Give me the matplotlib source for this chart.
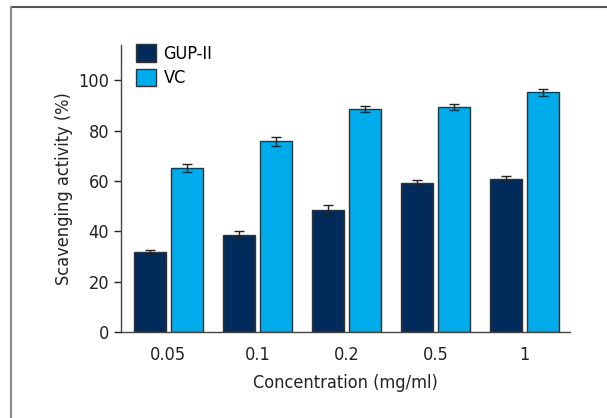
import matplotlib
matplotlib.use("Agg")
import matplotlib.pyplot as plt
from matplotlib.lines import Line2D
from matplotlib.patches import Patch
import numpy as np

plt.rcParams['font.family'] = ['DejaVu Sans']
plt.rcParams['font.stretch'] = 'condensed'

categories = ["0.05", "0.1", "0.2", "0.5", "1"]
gup = [31.7, 38.5, 48.6, 59.2, 60.8]
gup_err = [0.9, 1.6, 1.8, 1.1, 1.0]
vc = [65.2, 75.7, 88.6, 89.4, 95.2]
vc_err = [1.6, 1.8, 1.3, 1.1, 1.3]
series_names = ["GUP-II", "VC"]

c_dark = "#022b5b"
c_light = "#00acec"
fs = 13

fig = plt.figure(figsize=(6.07, 4.18), dpi=100)
ax = fig.add_axes([121/607, 1-332/418, (570-121)/607, (332-45)/418])

x = np.arange(len(categories))
w = 0.36
off = 0.207
ax.bar(x - off, gup, w, color=c_dark, edgecolor="#333333", linewidth=1.0,
       yerr=gup_err, capsize=3.5, error_kw=dict(ecolor="#222222", elinewidth=1.0, capthick=1.0))
ax.bar(x + off, vc, w, color=c_light, edgecolor="#333333", linewidth=1.0,
       yerr=vc_err, capsize=3.5, error_kw=dict(ecolor="#222222", elinewidth=1.0, capthick=1.0))

ax.set_xlim(-0.53, 4.51)
ax.set_ylim(0, 114)
ax.set_yticks([0, 20, 40, 60, 80, 100])
ax.set_xticks(x)
ax.set_xticklabels(categories)
ax.tick_params(axis='x', length=0, labelsize=fs, pad=10, colors="#222222")
ax.tick_params(axis='y', length=5, width=1, labelsize=fs, colors="#222222", direction='out')
for s in ['top', 'right']:
    ax.spines[s].set_visible(False)
for s in ['left', 'bottom']:
    ax.spines[s].set_color("#444444")
    ax.spines[s].set_linewidth(1.0)

ax.set_xlabel("Concentration (mg/ml)", fontsize=fs, color="#222222", labelpad=7)
ax.set_ylabel("Scavenging activity (%)", fontsize=fs, color="#222222", labelpad=4)

handles = [Patch(facecolor=c_dark, edgecolor="#333333"), Patch(facecolor=c_light, edgecolor="#333333")]
leg = ax.legend(handles, series_names, loc='upper left', bbox_to_anchor=(0.01, 1.04),
                frameon=False, fontsize=fs, handlelength=1.1, handleheight=1.1,
                handletextpad=0.4, labelspacing=0.3, borderaxespad=0.2)

# outer frame lines (top and left)
fig.add_artist(Line2D([11/607, 1], [1-7/418, 1-7/418], transform=fig.transFigure, color="#555555", lw=1.5))
fig.add_artist(Line2D([11/607, 11/607], [0, 1-7/418], transform=fig.transFigure, color="#888888", lw=1.5))

fig.savefig("out.png", dpi=100)
